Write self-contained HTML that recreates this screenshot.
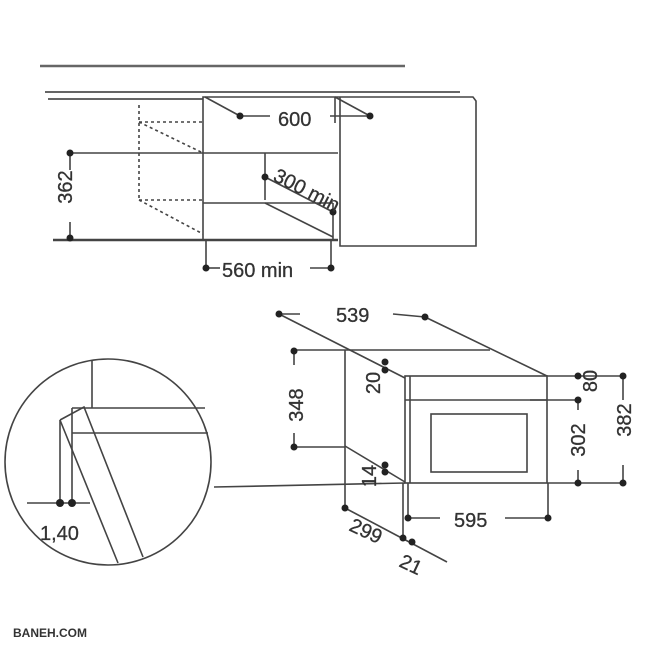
<!DOCTYPE html>
<html><head><style>body{margin:0;background:#fff}svg{display:block}text{font-family:"Liberation Sans",sans-serif;fill:#333;font-size:20px;stroke:#333;stroke-width:0.3}</style></head><body>
<svg width="650" height="650" viewBox="0 0 650 650" stroke="#444" stroke-width="1.6" fill="none">
<g>
<line x1="40" y1="66" x2="405" y2="66" stroke-width="2.5" stroke="#666"/>
<line x1="45" y1="92" x2="460" y2="92" stroke-width="2" stroke="#666"/>
<line x1="48" y1="99" x2="203" y2="99" stroke-width="2" stroke="#666"/>
<polyline points="203,240 203,97 473,97 476,101 476,246 340,246 340,97"/>
<line x1="335" y1="97" x2="335" y2="123"/>
<line x1="70" y1="153" x2="338" y2="153"/>
<line x1="53" y1="240" x2="338" y2="240" stroke-width="2.5"/>
<line x1="203" y1="203" x2="333" y2="203"/>
<line x1="333" y1="203" x2="333" y2="240"/>
<line x1="265" y1="153" x2="265" y2="200"/>
<line x1="265" y1="203" x2="333" y2="237"/>
<line x1="265" y1="177" x2="333" y2="212"/>
<g stroke-dasharray="3,3"><line x1="139" y1="105" x2="139" y2="200"/><line x1="139" y1="122" x2="203" y2="122"/><line x1="139" y1="122" x2="203" y2="153"/><line x1="139" y1="200" x2="203" y2="200"/><line x1="139" y1="200" x2="203" y2="234"/></g>
<line x1="205" y1="97" x2="240" y2="116"/><line x1="240" y1="116" x2="270" y2="116"/>
<line x1="335" y1="97" x2="370" y2="116"/><line x1="330" y1="116" x2="370" y2="116"/>
<line x1="70" y1="153" x2="70" y2="170"/><line x1="70" y1="222" x2="70" y2="238"/>
<line x1="206" y1="240" x2="206" y2="268"/><line x1="331" y1="240" x2="331" y2="268"/>
<line x1="206" y1="268" x2="220" y2="268"/><line x1="310" y1="268" x2="331" y2="268"/>
</g>
<g fill="#222" stroke="none">
<circle cx="240" cy="116" r="3.5"/><circle cx="370" cy="116" r="3.5"/><circle cx="70" cy="153" r="3.5"/><circle cx="70" cy="238" r="3.5"/><circle cx="206" cy="268" r="3.5"/><circle cx="331" cy="268" r="3.5"/><circle cx="265" cy="177" r="3.5"/><circle cx="333" cy="212" r="3.5"/>
</g>
<g>
<text x="278" y="126">600</text>
<text x="81" y="196" text-anchor="middle" transform="rotate(-90 72 196)">362</text>
<text x="222" y="277">560 min</text>
<text x="272" y="180" transform="rotate(27 272 180)">300 min</text>
</g>
<g>
<line x1="279" y1="314" x2="405" y2="378"/>
<line x1="425" y1="317" x2="547" y2="376"/>
<line x1="279" y1="314" x2="300" y2="314"/><line x1="393" y1="314" x2="425" y2="317"/>
<polyline points="294,350 490,350"/>
<line x1="345" y1="350" x2="345" y2="508"/>
<line x1="294" y1="447" x2="345" y2="447"/>
<line x1="345" y1="446" x2="405" y2="482"/>
<rect x="405" y="376" width="142" height="107"/>
<line x1="410" y1="376" x2="410" y2="483"/>
<line x1="405" y1="400" x2="547" y2="400"/>
<rect x="431" y="414" width="96" height="58"/>
<line x1="294" y1="351" x2="294" y2="365"/><line x1="294" y1="433" x2="294" y2="447"/>
<line x1="547" y1="376" x2="623" y2="376"/><line x1="547" y1="483" x2="623" y2="483"/><line x1="530" y1="400" x2="578" y2="400"/>
<line x1="578" y1="400" x2="578" y2="410"/><line x1="578" y1="470" x2="578" y2="483"/>
<line x1="623" y1="376" x2="623" y2="400"/><line x1="623" y1="465" x2="623" y2="483"/>
<line x1="214" y1="487" x2="405" y2="483"/>
<line x1="403" y1="483" x2="403" y2="540"/><line x1="408" y1="483" x2="408" y2="518"/><line x1="548" y1="483" x2="548" y2="518"/>
<line x1="408" y1="518" x2="440" y2="518"/><line x1="505" y1="518" x2="548" y2="518"/>
<line x1="345" y1="508" x2="447" y2="562"/>
<circle cx="108" cy="462" r="103"/>
<line x1="92" y1="360" x2="92" y2="408"/>
<line x1="72" y1="408" x2="205" y2="408"/><line x1="72" y1="433" x2="208" y2="433"/>
<line x1="72" y1="408" x2="72" y2="433"/>
<polyline points="60,420 84,407 143,557"/>
<line x1="60" y1="420" x2="118" y2="563"/>
<line x1="60" y1="420" x2="60" y2="503"/><line x1="72" y1="433" x2="72" y2="503"/>
<line x1="27" y1="503" x2="90" y2="503"/>
</g>
<g fill="#222" stroke="none">
<circle cx="279" cy="314" r="3.5"/><circle cx="425" cy="317" r="3.5"/><circle cx="294" cy="351" r="3.5"/><circle cx="294" cy="447" r="3.5"/>
<circle cx="385" cy="362" r="3.5"/><circle cx="385" cy="370" r="3.5"/><circle cx="385" cy="465" r="3.5"/><circle cx="385" cy="472" r="3.5"/>
<circle cx="578" cy="376" r="3.5"/><circle cx="623" cy="376" r="3.5"/><circle cx="578" cy="400" r="3.5"/><circle cx="578" cy="483" r="3.5"/><circle cx="623" cy="483" r="3.5"/>
<circle cx="408" cy="518" r="3.5"/><circle cx="548" cy="518" r="3.5"/><circle cx="345" cy="508" r="3.5"/><circle cx="403" cy="538" r="3.5"/><circle cx="412" cy="542" r="3.5"/>
<circle cx="60" cy="503" r="4"/><circle cx="72" cy="503" r="4"/>
</g>
<g>
<text x="336" y="322">539</text>
<text x="296" y="398" text-anchor="middle" transform="rotate(-90 303 398)">348</text>
<text x="380" y="383" text-anchor="middle" transform="rotate(-90 380 383)">20</text>
<text x="370" y="470" text-anchor="middle" transform="rotate(-90 376 470)">14</text>
<text x="604" y="388" text-anchor="middle" transform="rotate(-90 597 388)">80</text>
<text x="585" y="440" text-anchor="middle" transform="rotate(-90 585 440)">302</text>
<text x="631" y="420" text-anchor="middle" transform="rotate(-90 631 420)">382</text>
<text x="454" y="527">595</text>
<text x="348" y="530" transform="rotate(25 348 530)">299</text>
<text x="398" y="566" transform="rotate(25 398 566)">21</text>
<text x="40" y="540">1,40</text>
<text x="13" y="637" style="font-size:12px;font-weight:bold;fill:#333;stroke:none">BANEH.COM</text>
</g>
</svg>
</body></html>
